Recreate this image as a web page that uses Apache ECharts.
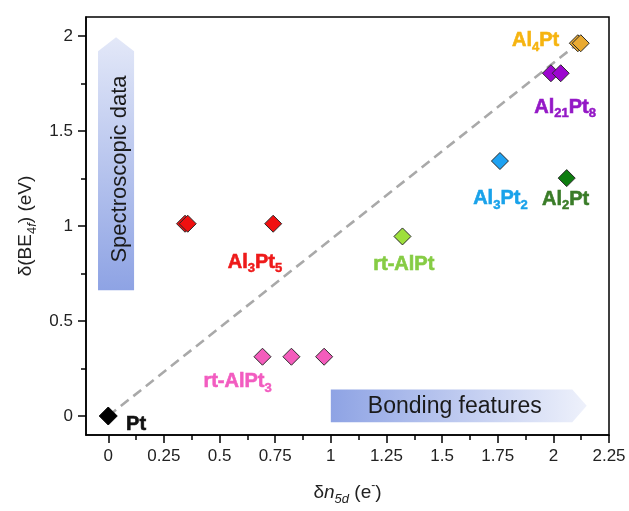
<!DOCTYPE html>
<html>
<head>
<meta charset="utf-8">
<script src="https://cdn.jsdelivr.net/npm/echarts@6/dist/echarts.min.js"></script>
<style>
html,body{margin:0;padding:0;background:#fff;}
#c{width:629px;height:511px;}
</style>
</head>
<body>
<div id="c"></div>
<script>
const FONT = '"Liberation Sans", Arial, Helvetica, sans-serif';

// ---- data (δn5d, δ(BE4f)) ----
const ptX = [0];                       const ptY = [0];
const al3pt5X = [0.345, 0.357, 0.741]; const al3pt5Y = [1.012, 1.012, 1.012];
const rtAlPt3X = [0.693, 0.823, 0.970];const rtAlPt3Y = [0.312, 0.312, 0.312];
const rtAlPtX = [1.322];               const rtAlPtY = [0.945];
const al3pt2X = [1.760];               const al3pt2Y = [1.342];
const al2ptX = [2.060];                const al2ptY = [1.252];
const al21pt8X = [1.989, 2.033];       const al21pt8Y = [1.804, 1.804];
const al4ptX = [2.110, 2.123];         const al4ptY = [1.962, 1.962];
const trendX = [0, 2.11];              const trendY = [0, 1.96];

// ---- ticks ----
const xTicks = [0, 0.25, 0.5, 0.75, 1, 1.25, 1.5, 1.75, 2, 2.25];
const xMinor = [0.125, 0.375, 0.625, 0.875, 1.125, 1.375, 1.625, 1.875, 2.125];
const yTicks = [0, 0.5, 1, 1.5, 2];
const yMinor = [0.25, 0.75, 1.25, 1.75];

// ---- compound names / colours ----
const names = ['Pt', 'Al3Pt5', 'rt-AlPt3', 'rt-AlPt', 'Al3Pt2', 'Al2Pt', 'Al21Pt8', 'Al4Pt'];
const labelText = ['Pt', 'Al{s|3}Pt{s|5}', 'rt-AlPt{s|3}', 'rt-AlPt', 'Al{s|3}Pt{s|2}', 'Al{s|2}Pt', 'Al{s|21}Pt{s|8}', 'Al{s|4}Pt'];
const markerColors = ['#000000', '#f01010', '#f45cbc', '#9ee03c', '#1ea2f2', '#0e7d10', '#9c06cf', '#e9aa32'];
const labelColors  = ['#111111', '#ee1a1a', '#f25cc0', '#86cc44', '#19a2ea', '#3a7c28', '#9418c6', '#f6b410'];
// label anchor positions (data units)
const labelPosX = [0.125, 0.659, 0.581, 1.328, 1.762, 2.055, 2.053, 1.92];
const labelPosY = [-0.045, 0.81, 0.18, 0.80, 1.145, 1.14, 1.625, 1.975];

const xsAll = [ptX, al3pt5X, rtAlPt3X, rtAlPtX, al3pt2X, al2ptX, al21pt8X, al4ptX];
const ysAll = [ptY, al3pt5Y, rtAlPt3Y, rtAlPtY, al3pt2Y, al2ptY, al21pt8Y, al4ptY];

const zip = (a, b) => a.map((v, i) => [v, b[i]]);

const chart = echarts.init(document.getElementById('c'), null, {renderer: 'canvas'});

const tickStyle = {color: '#000', width: 1.5};
const series = [];
series.push({
  type: 'line', data: zip(trendX, trendY), symbol: 'none', silent: true, z: 1,
  lineStyle: {color: '#a9a9a9', width: 2.6, type: [10, 6]}
});
names.forEach((n, i) => {
  series.push({
    name: n, type: 'scatter', z: 3,
    data: zip(xsAll[i], ysAll[i]),
    symbol: 'diamond', symbolSize: i === 0 ? 18 : 17,
    itemStyle: {color: markerColors[i], borderColor: i === 0 ? '#000' : '#2a2a2a', borderWidth: 1, opacity: 1}
  });
});
series.push({
  type: 'scatter', silent: true, z: 4, symbolSize: 1,
  itemStyle: {color: 'rgba(255,255,255,0)'},
  data: names.map((n, i) => ({
    value: [labelPosX[i], labelPosY[i]],
    label: {
      show: true, position: 'inside', formatter: labelText[i],
      color: labelColors[i], fontSize: 20, fontWeight: 'bold', fontFamily: FONT, lineHeight: 26,
      textBorderColor: labelColors[i], textBorderWidth: 0.6, opacity: 1,
      rich: {s: {fontSize: 13, fontWeight: 'bold', verticalAlign: 'bottom', lineHeight: 13, fontFamily: FONT,
                 color: labelColors[i], textBorderColor: labelColors[i], textBorderWidth: 0.5}}
    }
  }))
});

const axisNameStyle = {
  fontSize: 19, color: '#222', fontFamily: FONT, lineHeight: 26,
  rich: {
    it: {fontSize: 19, fontStyle: 'italic', color: '#222', fontFamily: FONT, lineHeight: 26},
    sub: {fontSize: 13, verticalAlign: 'bottom', lineHeight: 13, color: '#222', fontFamily: FONT},
    sit: {fontSize: 13, fontStyle: 'italic', verticalAlign: 'bottom', lineHeight: 13, color: '#222', fontFamily: FONT},
    sup: {fontSize: 12, verticalAlign: 'top', lineHeight: 12, color: '#222', fontFamily: FONT}
  }
};

chart.setOption({
  animation: false,
  backgroundColor: '#fff',
  grid: {left: 86, right: 20, top: 17, bottom: 73, show: true, borderColor: '#000', borderWidth: 1.5, backgroundColor: 'rgba(0,0,0,0)'},
  xAxis: [{
    type: 'value', min: -0.1, max: 2.25,
    axisLine: {show: true, onZero: false, lineStyle: tickStyle},
    splitLine: {show: false},
    axisTick: {show: true, customValues: xTicks, length: 8, lineStyle: tickStyle},
    axisLabel: {customValues: xTicks, margin: 13, fontSize: 17, color: '#222', fontFamily: FONT,
                formatter: v => String(Math.round(v * 1000) / 1000)},
    name: 'δ{it|n}{sit|5d} (e{sup|-})', nameLocation: 'middle', nameGap: 45,
    nameTextStyle: axisNameStyle
  }, {
    type: 'value', min: -0.1, max: 2.25, position: 'bottom',
    axisLine: {show: false, onZero: false},
    splitLine: {show: false},
    axisTick: {show: true, customValues: xMinor, length: 5, lineStyle: tickStyle},
    axisLabel: {show: false}
  }],
  yAxis: [{
    type: 'value', min: -0.1, max: 2.1,
    axisLine: {show: true, onZero: false, lineStyle: tickStyle},
    splitLine: {show: false},
    axisTick: {show: true, customValues: yTicks, length: 8, lineStyle: tickStyle},
    axisLabel: {customValues: yTicks, margin: 13, fontSize: 17, color: '#222', fontFamily: FONT,
                formatter: v => String(Math.round(v * 1000) / 1000)},
    name: 'δ(BE{sub|4}{sit|f}) (eV)', nameLocation: 'middle', nameGap: 46, nameRotate: 90,
    nameTextStyle: axisNameStyle
  }, {
    type: 'value', min: -0.1, max: 2.1, position: 'left',
    axisLine: {show: false, onZero: false},
    splitLine: {show: false},
    axisTick: {show: true, customValues: yMinor, length: 5, lineStyle: tickStyle},
    axisLabel: {show: false}
  }],
  series: series
});

// ---- annotation arrows (geometry in data units) ----
const vArrow = {x0: -0.046, x1: 0.116, yBottom: 0.662, yShoulder: 1.92, yTip: 1.993};
const hArrow = {xLeft: 1.0, xBody: 2.085, xTip: 2.15, yTop: 0.140, yBot: -0.033};
const vTextPos = [0.052, 1.30];
const hTextPos = [1.557, 0.051];

const px = p => chart.convertToPixel({xAxisIndex: 0, yAxisIndex: 0}, p);
const vb0 = px([vArrow.x0, vArrow.yBottom]), vs0 = px([vArrow.x0, vArrow.yShoulder]);
const vt = px([(vArrow.x0 + vArrow.x1) / 2, vArrow.yTip]);
const vs1 = px([vArrow.x1, vArrow.yShoulder]), vb1 = px([vArrow.x1, vArrow.yBottom]);
const hl0 = px([hArrow.xLeft, hArrow.yTop]), hb0 = px([hArrow.xBody, hArrow.yTop]);
const ht = px([hArrow.xTip, (hArrow.yTop + hArrow.yBot) / 2]);
const hb1 = px([hArrow.xBody, hArrow.yBot]), hl1 = px([hArrow.xLeft, hArrow.yBot]);
const vtp = px(vTextPos), htp = px(hTextPos);

chart.setOption({
  graphic: [
    {type: 'polygon', z: 0, silent: true,
     shape: {points: [vb0, vs0, vt, vs1, vb1]},
     style: {fill: new echarts.graphic.LinearGradient(0, 0, 0, 1, [
       {offset: 0, color: '#e3e8f8'}, {offset: 1, color: '#8ea3e4'}])}},
    {type: 'polygon', z: 0, silent: true,
     shape: {points: [hl0, hb0, ht, hb1, hl1]},
     style: {fill: new echarts.graphic.LinearGradient(0, 0, 1, 0, [
       {offset: 0, color: '#8ea3e4'}, {offset: 1, color: '#eef1fb'}])}},
    {type: 'text', z: 5, silent: true, x: vtp[0], y: vtp[1], rotation: Math.PI / 2,
     style: {text: 'Spectroscopic data', fill: '#1a1a1a', font: '22px ' + FONT, align: 'center', verticalAlign: 'middle'}},
    {type: 'text', z: 5, silent: true, x: htp[0], y: htp[1],
     style: {text: 'Bonding features', fill: '#1a1a1a', font: '23px ' + FONT, align: 'center', verticalAlign: 'middle'}}
  ]
});
</script>
</body>
</html>
